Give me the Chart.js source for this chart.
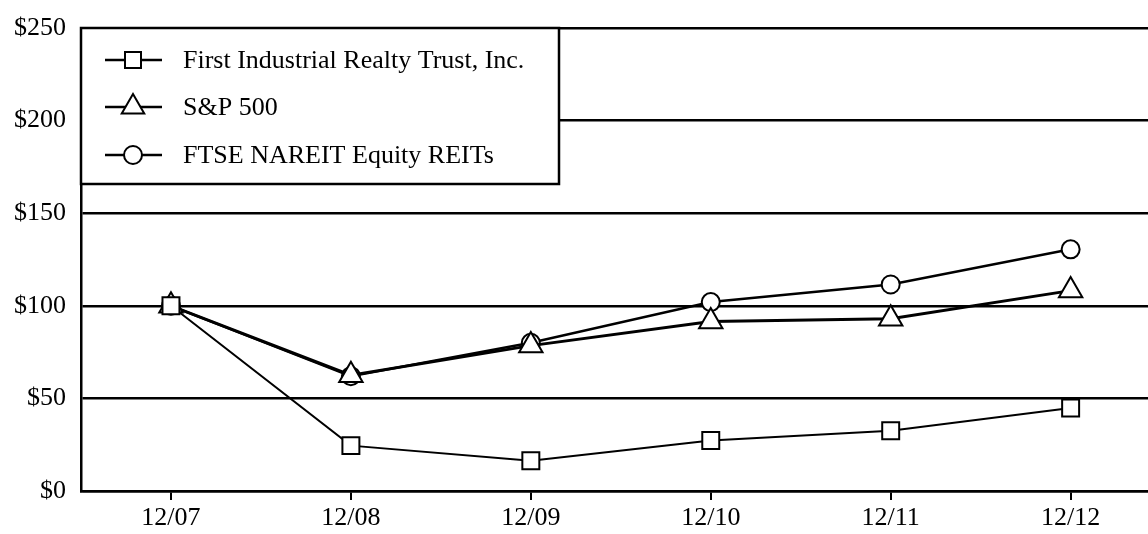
<!DOCTYPE html>
<html>
<head>
<meta charset="utf-8">
<script src="https://cdn.jsdelivr.net/npm/chart.js@4.4.1/dist/chart.umd.min.js"></script>
<style>
  html, body { margin: 0; padding: 0; background: #fff; overflow: hidden; }
  #wrap { width: 1148px; height: 534px; position: relative; overflow: hidden; }
  #c { display: block; }
</style>
</head>
<body>
<div id="wrap"><canvas id="c" width="1148" height="534"></canvas></div>
<script>
const categories = ['12/07', '12/08', '12/09', '12/10', '12/11', '12/12'];
const seriesNames = ['First Industrial Realty Trust, Inc.', 'S&P 500', 'FTSE NAREIT Equity REITs'];
const firstIndustrial = [100, 24.5, 16.3, 27.3, 32.5, 44.8];
const sp500 = [100, 62.5, 78.5, 91.5, 93.0, 108.2];
const ftseNareit = [100, 62.0, 80.0, 102.0, 111.5, 130.5];
const yTickValues = [0, 50, 100, 150, 200, 250];

const FONT = "'Liberation Serif', 'Times New Roman', serif";
const styles = [
  { pointStyle: 'rect', pointRadius: 12, lineWidth: 2 },
  { pointStyle: 'triangle', pointRadius: 13.5, lineWidth: 3 },
  { pointStyle: 'circle', pointRadius: 9, lineWidth: 2.5 }
];
const seriesValues = [firstIndustrial, sp500, ftseNareit];

const datasets = seriesValues.map((vals, k) => ({
  label: seriesNames[k],
  data: vals.map((v, i) => ({ x: i, y: v })),
  borderColor: '#000',
  borderWidth: styles[k].lineWidth,
  backgroundColor: '#fff',
  pointStyle: styles[k].pointStyle,
  pointRadius: styles[k].pointRadius,
  pointHoverRadius: styles[k].pointRadius,
  pointBackgroundColor: '#fff',
  pointBorderColor: '#000',
  pointBorderWidth: 2,
  tension: 0,
  fill: false
}));

const legendBox = {
  id: 'legendBox',
  afterDraw(chart) {
    const ctx = chart.ctx;
    const a = chart.chartArea;
    const x0 = a.left, y0 = a.top, x1 = 559, y1 = 184;
    ctx.save();
    ctx.fillStyle = '#fff';
    ctx.fillRect(x0, y0, x1 - x0, y1 - y0);
    ctx.strokeStyle = '#000';
    ctx.lineWidth = 2.5;
    ctx.strokeRect(x0, y0, x1 - x0, y1 - y0);
    const rows = [60, 107, 155];
    seriesNames.forEach((name, k) => {
      const y = rows[k];
      ctx.strokeStyle = '#000';
      ctx.lineWidth = 2.5;
      ctx.beginPath();
      ctx.moveTo(105, y); ctx.lineTo(162, y);
      ctx.stroke();
      const cx = 133;
      ctx.fillStyle = '#fff';
      ctx.lineWidth = 2;
      ctx.beginPath();
      if (k === 0) {
        ctx.rect(cx - 8, y - 8, 16, 16);
      } else if (k === 1) {
        const r = 13;
        ctx.moveTo(cx, y - r);
        ctx.lineTo(cx + r * Math.sin(Math.PI * 2 / 3), y + r / 2);
        ctx.lineTo(cx - r * Math.sin(Math.PI * 2 / 3), y + r / 2);
        ctx.closePath();
      } else {
        ctx.arc(cx, y, 9, 0, Math.PI * 2);
      }
      ctx.fill();
      ctx.stroke();
      ctx.fillStyle = '#000';
      ctx.font = '26px ' + FONT;
      ctx.textBaseline = 'middle';
      ctx.textAlign = 'left';
      ctx.fillText(name, 183, y + 1);
    });
    ctx.restore();
  }
};

new Chart(document.getElementById('c'), {
  type: 'line',
  data: { datasets },
  plugins: [legendBox],
  options: {
    responsive: false,
    animation: false,
    events: [],
    layout: { autoPadding: false, padding: { top: 28, right: 0, left: 0, bottom: 0 } },
    plugins: { legend: { display: false }, tooltip: { enabled: false } },
    scales: {
      x: {
        type: 'linear',
        min: -0.5,
        max: 5.43,
        afterBuildTicks: (scale) => { scale.ticks = categories.map((_, i) => ({ value: i })); },
        afterFit: (scale) => { scale.height = 43; scale.paddingRight = 0; scale.paddingLeft = 0; },
        ticks: {
          autoSkip: false,
          maxRotation: 0,
          padding: 3,
          color: '#000',
          font: { family: FONT, size: 26 },
          callback: (v) => categories[v] !== undefined ? categories[v] : ''
        },
        grid: {
          drawOnChartArea: false,
          drawTicks: true,
          tickLength: 9,
          color: '#000',
          lineWidth: 2
        },
        border: { display: true, color: '#000', width: 2.5 }
      },
      y: {
        min: 0,
        max: 250,
        afterBuildTicks: (scale) => { scale.ticks = yTickValues.map(v => ({ value: v })); },
        afterFit: (scale) => { scale.width = 81; scale.paddingTop = 0; scale.paddingBottom = 0; },
        ticks: {
          padding: 15,
          color: '#000',
          font: { family: FONT, size: 26 },
          callback: (v) => '$' + v
        },
        grid: {
          drawTicks: false,
          color: '#000',
          lineWidth: 2.5
        },
        border: { display: true, color: '#000', width: 2.5 }
      }
    }
  }
});
</script>
</body>
</html>
